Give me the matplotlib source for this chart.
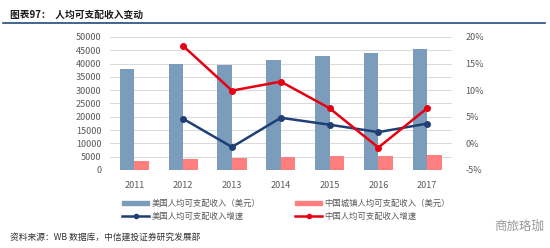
import numpy as np
import matplotlib.pyplot as plt
from matplotlib.patches import Patch
from matplotlib.lines import Line2D

plt.rcParams['font.family'] = ['Noto Sans CJK SC', 'DejaVu Sans']

# ******** data ********
years = ['2011', '2012', '2013', '2014', '2015', '2016', '2017']
us_income = [38000, 40000, 39600, 41350, 42850, 43850, 45400]
cn_income = [3500, 4000, 4600, 4750, 5250, 5250, 5500]
us_growth = [None, 4.6, -0.7, 4.8, 3.5, 2.1, 3.7]
cn_growth = [None, 18.3, 9.9, 11.6, 6.6, -0.8, 6.6]

blue_bar = '#7b9dbb'
pink_bar = '#ff7f7f'
blue_line = '#1f3f75'
red_line = '#e60012'
gray = '#595959'

fig = plt.figure(figsize=(5.5, 2.48), dpi=100)
ax = fig.add_axes([0.2, 0.315, 0.621, 0.536])
x = np.arange(len(years))
w = 0.3
ax.bar(x - w / 2, us_income, w, color=blue_bar, zorder=2)
ax.bar(x + w / 2, cn_income, w, color=pink_bar, zorder=2)
ax.set_ylim(0, 50000)
ax.set_yticks(np.arange(0, 50001, 5000))
ax.set_xlim(-0.5, len(years) - 0.5)
ax.set_xticks(x)
ax.set_xticklabels(years)
ax.grid(axis='y', color='#d9d9d9', lw=0.7, zorder=0)
for s in ax.spines.values():
    s.set_visible(False)
ax.tick_params(length=0, labelsize=6.5, colors=gray, pad=6)
ax.tick_params(axis='x', pad=8)

ax2 = ax.twinx()
xl = x[1:]
ax2.plot(xl, us_growth[1:], color=blue_line, lw=1.8, marker='o', ms=4, zorder=3)
ax2.plot(xl, cn_growth[1:], color=red_line, lw=1.8, marker='o', ms=4, zorder=4)
ax2.set_ylim(-5, 20)
ax2.set_yticks(np.arange(-5, 21, 5))
ax2.set_yticklabels(['%d%%' % v for v in range(-5, 21, 5)])
for s in ax2.spines.values():
    s.set_visible(False)
ax2.tick_params(length=0, labelsize=6.5, colors=gray, pad=10)

# ******** legend ********
handles = [Patch(color=blue_bar), Line2D([], [], color=blue_line, lw=1.8, marker='o', ms=3),
           Patch(color=pink_bar), Line2D([], [], color=red_line, lw=1.8, marker='o', ms=3)]
labels = ['美国人均可支配收入（美元）', '美国人均可支配收入增速',
          '中国城镇人均可支配收入（美元）', '中国人均可支配收入增速']
fig.legend(handles, labels, ncol=2, loc='upper left', bbox_to_anchor=(0.215, 0.215),
           frameon=False, fontsize=6, labelcolor=gray, handlelength=3.2, handleheight=0.5,
           columnspacing=4.2, handletextpad=0.3, labelspacing=0.5, borderpad=0)

# ******** title & notes ********
fig.text(0.018, 0.94, '图表97：  人均可支配收入变动', fontsize=7, fontweight='bold', color='#1a1a1a', va='center')
fig.add_artist(Line2D([0.006, 0.99], [0.908, 0.908], color='#1f4e79', lw=1.2))
fig.text(0.018, 0.045, '资料来源：WB 数据库，中信建投证券研究发展部', fontsize=6.3, color='#333333',
         style='italic', va='center')
fig.text(0.99, 0.09, '商旅珞珈', fontsize=9, color='#9a9a9a', ha='right', va='center')

fig.savefig('out.png', dpi=100, facecolor='white')
